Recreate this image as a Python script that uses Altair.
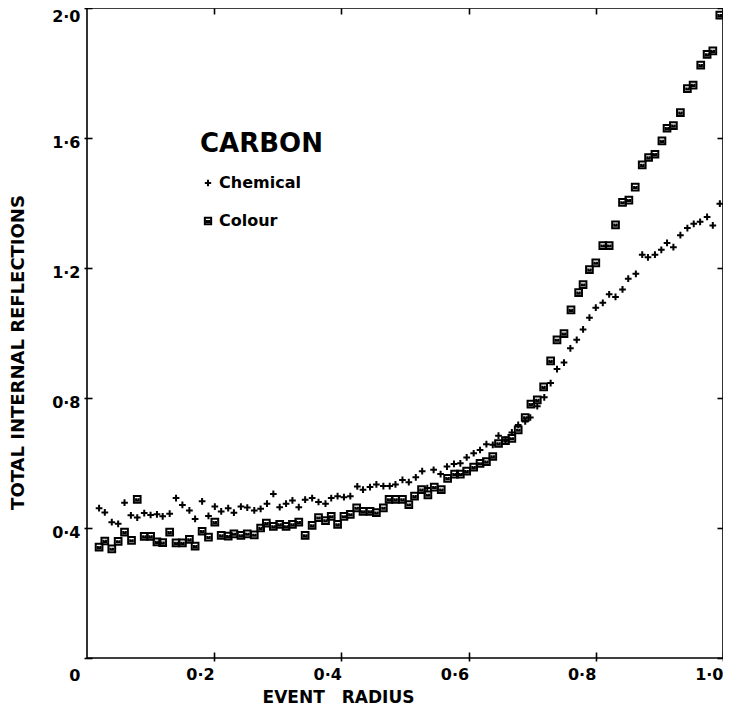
import altair as alt
import pandas as pd

chem_x = [0.019, 0.028, 0.039, 0.049, 0.059, 0.069, 0.079, 0.090, 0.100, 0.110,
          0.119, 0.130, 0.140, 0.150, 0.161, 0.170, 0.181, 0.191, 0.201, 0.211,
          0.222, 0.231, 0.242, 0.252, 0.263, 0.273, 0.283, 0.293, 0.303, 0.313,
          0.323, 0.333, 0.343, 0.354, 0.364, 0.375, 0.384, 0.394, 0.404, 0.414,
          0.425, 0.434, 0.445, 0.455, 0.466, 0.476, 0.485, 0.496, 0.506, 0.517,
          0.527, 0.535, 0.545, 0.556, 0.566, 0.577, 0.587, 0.597, 0.608, 0.618,
          0.628, 0.638, 0.647, 0.658, 0.668, 0.678, 0.689, 0.697, 0.708, 0.719,
          0.729, 0.739, 0.750, 0.760, 0.770, 0.780, 0.790, 0.800, 0.811, 0.821,
          0.831, 0.842, 0.851, 0.863, 0.873, 0.882, 0.893, 0.903, 0.912, 0.922,
          0.933, 0.944, 0.954, 0.964, 0.975, 0.984, 0.995]
chem_y = [0.461, 0.448, 0.418, 0.413, 0.478, 0.439, 0.432, 0.446, 0.440, 0.442,
          0.436, 0.444, 0.492, 0.471, 0.454, 0.428, 0.482, 0.437, 0.466, 0.451,
          0.461, 0.447, 0.466, 0.463, 0.454, 0.459, 0.475, 0.505, 0.464, 0.475,
          0.485, 0.464, 0.487, 0.492, 0.480, 0.475, 0.492, 0.498, 0.495, 0.498,
          0.528, 0.518, 0.526, 0.534, 0.529, 0.529, 0.534, 0.548, 0.541, 0.556,
          0.575, 0.523, 0.579, 0.566, 0.589, 0.597, 0.599, 0.617, 0.630, 0.640,
          0.658, 0.656, 0.684, 0.672, 0.694, 0.717, 0.728, 0.740, 0.775, 0.802,
          0.846, 0.889, 0.909, 0.953, 0.979, 1.011, 1.047, 1.078, 1.093, 1.119,
          1.111, 1.134, 1.167, 1.182, 1.241, 1.233, 1.241, 1.256, 1.277, 1.264,
          1.301, 1.323, 1.336, 1.342, 1.357, 1.331, 1.398]

col_x = [0.019, 0.028, 0.039, 0.049, 0.059, 0.070, 0.079, 0.090, 0.100, 0.110,
         0.119, 0.130, 0.140, 0.150, 0.161, 0.170, 0.181, 0.191, 0.201, 0.211,
         0.222, 0.231, 0.242, 0.252, 0.263, 0.273, 0.282, 0.293, 0.303, 0.313,
         0.323, 0.333, 0.343, 0.354, 0.364, 0.375, 0.384, 0.394, 0.404, 0.414,
         0.424, 0.434, 0.445, 0.455, 0.466, 0.475, 0.485, 0.496, 0.506, 0.515,
         0.526, 0.536, 0.546, 0.557, 0.567, 0.578, 0.587, 0.597, 0.608, 0.618,
         0.628, 0.638, 0.647, 0.658, 0.668, 0.678, 0.689, 0.698, 0.708, 0.718,
         0.729, 0.739, 0.750, 0.761, 0.773, 0.780, 0.790, 0.800, 0.811, 0.821,
         0.831, 0.842, 0.852, 0.862, 0.873, 0.883, 0.893, 0.904, 0.912, 0.922,
         0.933, 0.944, 0.953, 0.965, 0.975, 0.984, 0.995]
col_y = [0.341, 0.360, 0.336, 0.359, 0.387, 0.362, 0.488, 0.374, 0.374, 0.357,
         0.355, 0.387, 0.354, 0.354, 0.365, 0.344, 0.390, 0.372, 0.418, 0.377,
         0.375, 0.382, 0.377, 0.382, 0.379, 0.400, 0.415, 0.405, 0.411, 0.405,
         0.411, 0.418, 0.377, 0.408, 0.432, 0.423, 0.436, 0.411, 0.436, 0.442,
         0.462, 0.451, 0.451, 0.447, 0.462, 0.488, 0.488, 0.488, 0.472, 0.498,
         0.518, 0.502, 0.526, 0.518, 0.553, 0.566, 0.566, 0.575, 0.587, 0.599,
         0.604, 0.620, 0.660, 0.669, 0.676, 0.702, 0.740, 0.781, 0.794, 0.834,
         0.914, 0.979, 0.998, 1.071, 1.124, 1.149, 1.195, 1.216, 1.269, 1.269,
         1.333, 1.402, 1.409, 1.449, 1.517, 1.540, 1.550, 1.591, 1.630, 1.638,
         1.678, 1.752, 1.763, 1.824, 1.857, 1.868, 1.978]

series_names = ["Chemical", "Colour"]
x_ticks = [0.2, 0.4, 0.6, 0.8, 1.0]
y_ticks = [0.0, 0.4, 0.8, 1.2, 1.6, 2.0]

df = pd.DataFrame({
    "x": chem_x + col_x,
    "y": chem_y + col_y,
    "series": [series_names[0]] * len(chem_x) + [series_names[1]] * len(col_x),
})

FONT = "DejaVu Sans"
label_expr = "replace(format(datum.value, '.1f'), '.', '·')"
y_label_expr = "datum.value == 0 ? '0' : replace(format(datum.value, '.1f'), '.', '·')"

plus_path = "M-1,0H1M0,-1V1"
square_path = "M-1,-1H1V1H-1Z M-0.35,-0.35V0.3H0.35V-0.35"

base = alt.Chart(df)

points = base.mark_point(filled=False, color="black", strokeWidth=2, opacity=1).encode(
    x=alt.X("x:Q", scale=alt.Scale(domain=[0, 1.0], nice=False, zero=False),
            axis=alt.Axis(values=x_ticks, labelExpr=label_expr, title="EVENT\u2003RADIUS",
                          orient="bottom", offset=-6, tickSize=9, domain=False, grid=False,
                          tickColor="black", tickWidth=1.6,
                          labelAlign="right", labelBaseline="top", labelPadding=5,
                          labelFont=FONT, labelFontSize=16, labelFontWeight="bold", labelColor="black",
                          titleFont=FONT, titleFontSize=17, titleFontWeight="bold", titleColor="black",
                          titleX=251, titleY=45, titleBaseline="middle", titleAlign="center")),
    y=alt.Y("y:Q", scale=alt.Scale(domain=[0, 2.0], nice=False),
            axis=alt.Axis(values=y_ticks, labelExpr=y_label_expr, title="TOTAL INTERNAL REFLECTIONS",
                          orient="left", offset=-5, tickSize=8, domain=False, grid=False,
                          tickColor="black", tickWidth=1.6,
                          labelAlign="right", labelBaseline="middle", labelPadding=4,
                          labelOffset={"condition": [{"test": "datum.value == 0", "value": 17},
                                                     {"test": "datum.value == 2", "value": 8}],
                                       "value": 4},
                          labelFont=FONT, labelFontSize=16, labelFontWeight="bold", labelColor="black",
                          titleFont=FONT, titleFontSize=18, titleFontWeight="bold", titleColor="black",
                          titleAngle=-90, titleX=-74, titleY=344, titleBaseline="middle", titleAlign="center")),
    shape=alt.Shape("series:N", scale=alt.Scale(domain=series_names, range=[plus_path, square_path]),
                    legend=alt.Legend(title="CARBON", orient="none", legendX=113, legendY=123,
                                      padding=0,
                                      titleFont=FONT, titleFontSize=26, titleFontWeight="bold",
                                      titleColor="black", titlePadding=18,
                                      labelFont=FONT, labelFontSize=16, labelFontWeight="bold",
                                      labelColor="black", labelOffset=3, rowPadding=22,
                                      symbolSize=40, symbolStrokeWidth=2,
                                      symbolStrokeColor="black")),
    size=alt.value(45),
)

frame_ticks = base.mark_point(opacity=0).encode(
    x=alt.X("x:Q", axis=alt.Axis(values=x_ticks, orient="top", offset=-6, tickSize=6,
                                  domain=False, labels=False, title=None, grid=False,
                                  tickColor="black", tickWidth=1.6)),
    y=alt.Y("y:Q", axis=alt.Axis(values=y_ticks, orient="right", offset=-6, tickSize=6,
                                  domain=False, labels=False, title=None, grid=False,
                                  tickColor="black", tickWidth=1.6)),
)

chart = alt.layer(points, frame_ticks).resolve_axis(x="independent", y="independent").properties(
    width=636, height=650,
    autosize=alt.AutoSizeParams(type="none"),
    padding={"left": 79, "top": 0, "right": 0, "bottom": 48},
    background="white",
).configure_view(stroke="black", strokeWidth=1.6)

chart.save("out.html", embed_options={"renderer": "svg", "actions": False})
